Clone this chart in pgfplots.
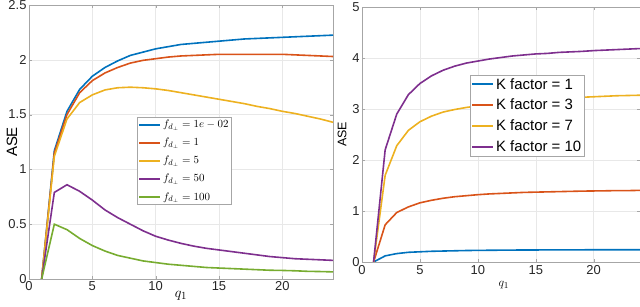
\documentclass[border=0pt]{standalone}
\usepackage{pgfplots}
\pgfplotsset{compat=1.18}
\usepackage{pgfplotstable}
\usepackage{fontspec}
\setmainfont{Liberation Sans}
\usetikzlibrary{calc}
\definecolor{mb}{rgb}{0,0.447,0.741}
\definecolor{mo}{rgb}{0.85,0.325,0.098}
\definecolor{my}{rgb}{0.929,0.694,0.125}
\definecolor{mp}{rgb}{0.494,0.184,0.556}
\definecolor{mg}{rgb}{0.466,0.674,0.188}
\pgfplotstableread{
x a b c d e
1 0 0 0 0 0
2 1.17 1.15 1.12 0.79 0.50
3 1.53 1.50 1.46 0.86 0.45
4 1.73 1.70 1.61 0.80 0.37
5 1.85 1.81 1.68 0.72 0.305
6 1.93 1.88 1.725 0.63 0.255
7 1.99 1.93 1.745 0.56 0.215
8 2.04 1.97 1.75 0.50 0.19
9 2.07 1.995 1.745 0.44 0.165
10 2.10 2.01 1.735 0.39 0.15
11 2.12 2.025 1.72 0.355 0.135
12 2.14 2.035 1.70 0.325 0.125
13 2.15 2.04 1.68 0.30 0.115
14 2.16 2.045 1.66 0.28 0.105
15 2.17 2.05 1.64 0.265 0.10
16 2.18 2.05 1.62 0.25 0.095
17 2.19 2.05 1.60 0.235 0.09
18 2.195 2.05 1.575 0.22 0.085
19 2.20 2.05 1.555 0.205 0.08
20 2.205 2.05 1.53 0.195 0.078
21 2.21 2.045 1.51 0.185 0.075
22 2.215 2.04 1.485 0.18 0.07
23 2.22 2.035 1.46 0.175 0.068
24 2.225 2.03 1.43 0.17 0.065
}\left
\pgfplotstableread{
x a b c d
1 0 0 0 0
2 0.12 0.73 1.70 2.20
3 0.165 0.97 2.28 2.90
4 0.19 1.08 2.58 3.28
5 0.20 1.16 2.75 3.50
6 0.21 1.21 2.86 3.65
7 0.215 1.25 2.94 3.76
8 0.22 1.28 2.99 3.84
9 0.225 1.30 3.03 3.90
10 0.228 1.32 3.06 3.94
11 0.23 1.335 3.09 3.98
12 0.232 1.345 3.11 4.01
13 0.234 1.355 3.14 4.04
14 0.235 1.365 3.16 4.06
15 0.236 1.37 3.18 4.08
16 0.237 1.375 3.19 4.09
17 0.238 1.38 3.21 4.11
18 0.238 1.385 3.22 4.12
19 0.239 1.39 3.23 4.13
20 0.24 1.393 3.24 4.145
21 0.24 1.396 3.25 4.155
22 0.24 1.40 3.26 4.165
23 0.24 1.40 3.265 4.175
24 0.24 1.405 3.27 4.185
}\right
\begin{document}
\begin{tikzpicture}[x=1bp,y=1bp]
\pgfplotsset{
  mstyle/.style={
    scale only axis,
    xmin=0, xmax=24,
    xtick={0,5,10,15,20},
    axis line style={gray!70},
    tick style={gray!70, major tick length=3bp},
    tick align=inside,
    grid=major,
    grid style={gray!18, line width=0.4pt},
    tick label style={font=\fontsize{13}{15}\selectfont, text=black!85},
    /pgf/number format/assume math mode=true,
    xlabel={$q_1$},
    ylabel={ASE},
    every axis plot/.append style={line width=1.6bp},
    yticklabel style={xshift=1bp},
    legend cell align=left,
    legend style={draw=gray!70, inner sep=1pt},
    legend image code/.code={\draw[#1, line width=2bp] (0bp,0bp) -- (21bp,0bp);},
  }
}
\begin{axis}[mstyle, name=L, at={(0,0)}, anchor=south west,
  width=304bp, height=274bp,
  ymin=0, ymax=2.5, ytick={0,0.5,1,1.5,2,2.5},
  yticklabels={0,0.5,1,1.5,2,2.5},
  label style={font=\fontsize{15}{17}\selectfont},
  ylabel style={at={(axis description cs:-0.056,0.5)}, anchor=center},
  xlabel style={at={(axis description cs:0.5,-0.06)}, anchor=center},
  xticklabel style={yshift=1bp},
  legend style={at={(0.355,0.591)}, anchor=north west,
    font=\fontsize{11}{13}\selectfont, row sep=5bp},
]
\addplot[mb] table[x=x,y=a]{\left};
\addplot[mo] table[x=x,y=b]{\left};
\addplot[my] table[x=x,y=c]{\left};
\addplot[mp] table[x=x,y=d]{\left};
\addplot[mg] table[x=x,y=e]{\left};
\legend{$f_{d_\perp}=1e-02$,$f_{d_\perp}=1$,$f_{d_\perp}=5$,$f_{d_\perp}=50$,$f_{d_\perp}=100$}
\end{axis}
\begin{axis}[mstyle, at={($(L.south west)+(333bp,17bp)$)}, anchor=south west,
  width=278bp, height=255bp,
  ymin=0, ymax=5, ytick={0,1,2,3,4,5},
  label style={font=\fontsize{12.5}{14}\selectfont},
  ylabel style={at={(axis description cs:-0.072,0.5)}, anchor=center},
  xlabel style={at={(axis description cs:0.51,-0.09)}, anchor=center},
  legend style={at={(0.388,0.733)}, anchor=north west,
    font=\fontsize{15}{17}\selectfont, row sep=4.5bp},
]
\addplot[mb] table[x=x,y=a]{\right};
\addplot[mo] table[x=x,y=b]{\right};
\addplot[my] table[x=x,y=c]{\right};
\addplot[mp] table[x=x,y=d]{\right};
\legend{K factor = 1,K factor = 3,K factor = 7,K factor = 10}
\end{axis}
\pgfresetboundingbox
\path[use as bounding box] ($(L.south west)+(-29bp,-28bp)$) rectangle ++(640bp,307bp);
\end{tikzpicture}
\end{document}
